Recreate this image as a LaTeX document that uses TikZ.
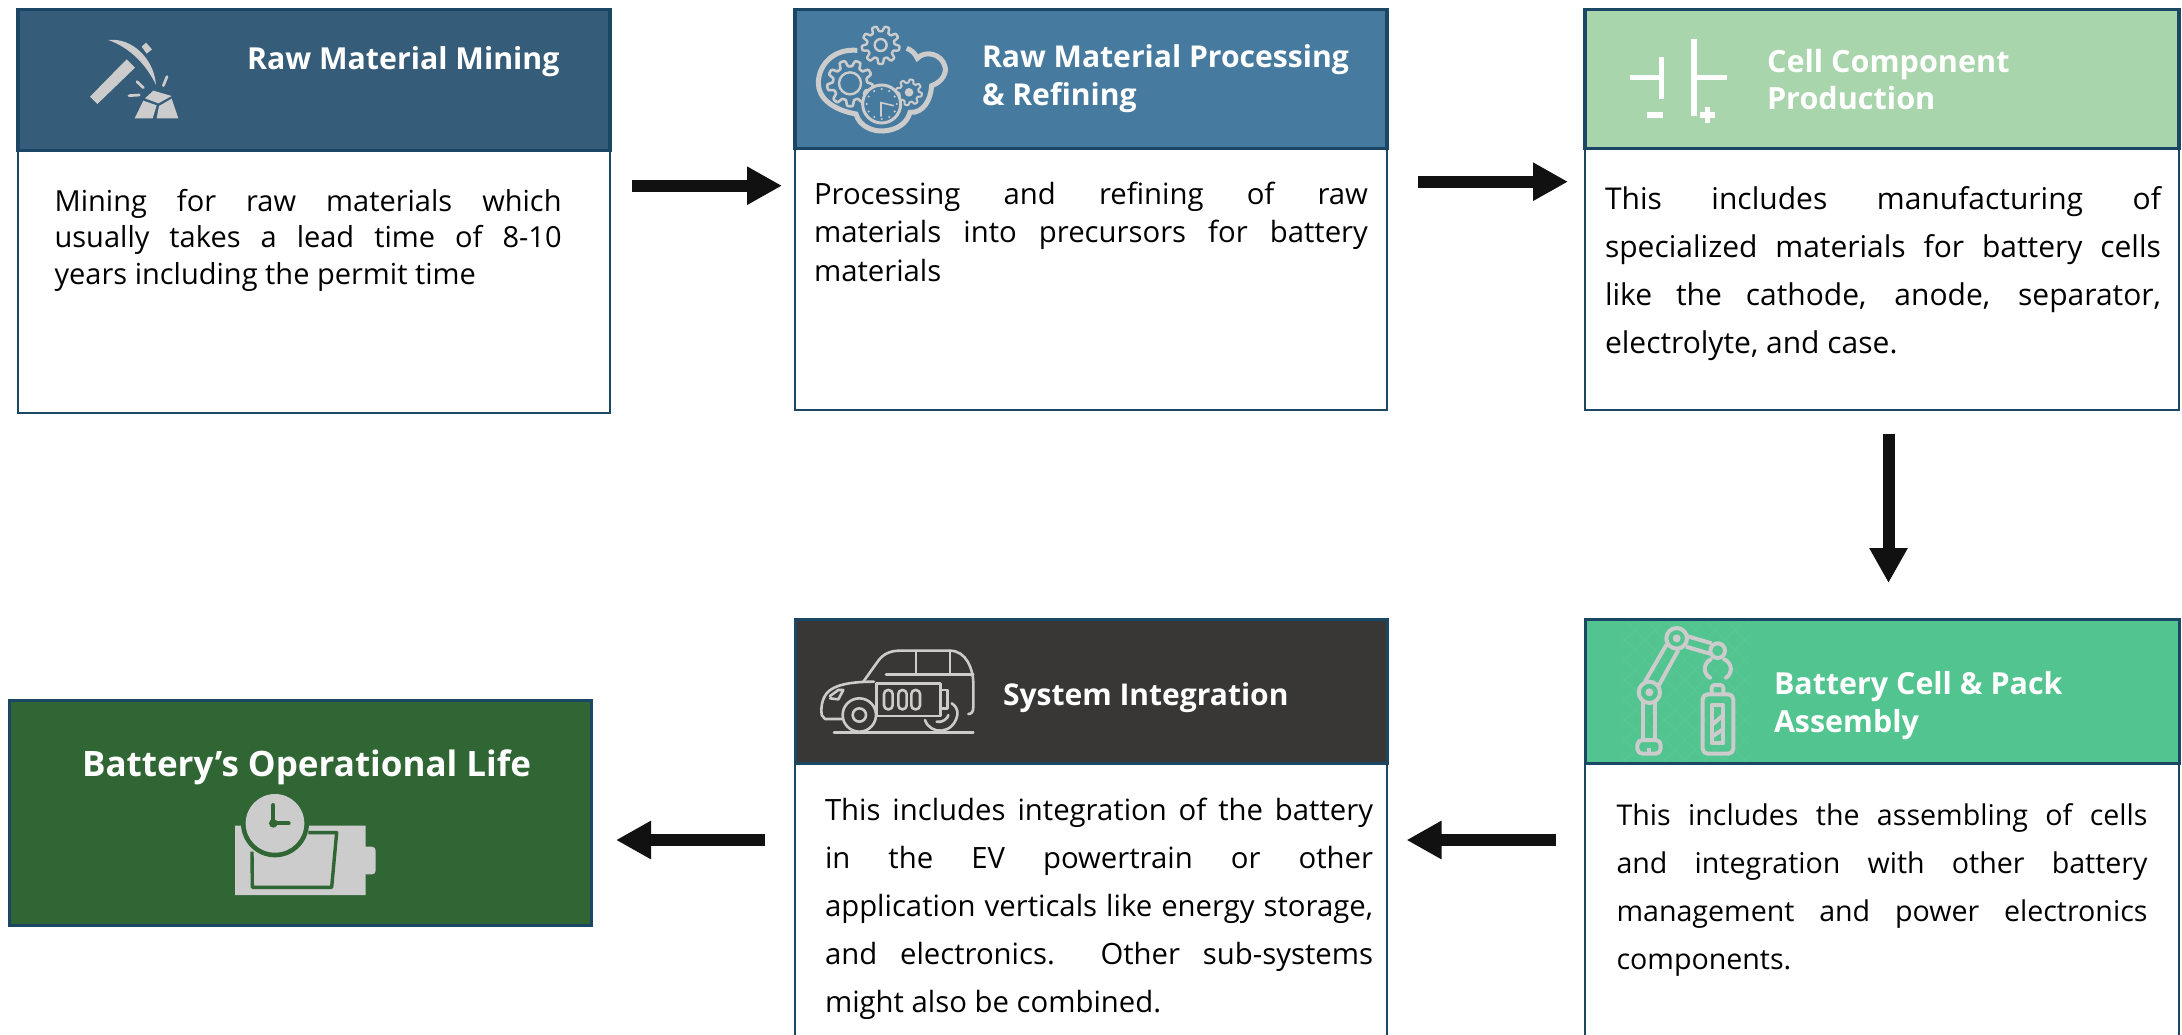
\documentclass[tikz,border=0pt]{standalone}
\usepackage{fontspec}
\setmainfont{Open Sans}
\usetikzlibrary{arrows.meta}
\definecolor{edge}{HTML}{1B4765}
\definecolor{hA}{HTML}{355C78}
\definecolor{hB}{HTML}{467A9F}
\definecolor{hC}{HTML}{A8D5AB}
\definecolor{hD}{HTML}{52C48F}
\definecolor{hE}{HTML}{383736}
\definecolor{hF}{HTML}{306534}
\definecolor{ic}{HTML}{CCCCCC}
\definecolor{arrowink}{HTML}{111111}
\newcommand\lines[2]{\vtop{\baselineskip=#1pt\lineskiplimit=-100pt\relax #2}}
\newcommand\jl[2]{\hbox to #1pt{\spaceskip=.26em plus 1fil\relax #2}}
\newcommand\iconGear[6]{\draw[#6] plot[domain=0:360,samples=145] ({#1+(#3+#4*tanh(2.5*sin(#5*\x)))*cos(\x)},{#2+(#3+#4*tanh(2.5*sin(#5*\x)))*sin(\x)}) -- cycle;}
\tikzset{
  headbox/.style={draw=edge,line width=3.4pt,anchor=north west,inner sep=0pt,outer sep=0pt},
  bodybox/.style={draw=edge,fill=white,line width=2.8pt,anchor=north west,inner sep=0pt,outer sep=0pt},
  bodytext/.style={anchor=base west,inner sep=0pt,outer sep=0pt,text=black,font=\fontsize{#1}{36}\selectfont},
  titletext/.style={anchor=base west,inner sep=0pt,outer sep=0pt,text=white,font=\fontsize{#1}{36}\selectfont\bfseries},
  flow/.style={draw=arrowink,line width=12pt,-{Triangle[length=35pt,width=36pt]}},
  iconscope/.style={x=.33333pt,y=-.33333pt}
}
\begin{document}
\begin{tikzpicture}[x=1pt,y=-1pt]
\useasboundingbox (0,0) rectangle (2182,1034);
\clip (0,0) rectangle (2182,1034);
\fill[white] (0,0) rectangle (2182,1034);
% boxes
\node[bodybox,minimum width=592pt,minimum height=263pt] (b1) at (18,150) {};
\node[headbox,fill=hA,minimum width=592pt,minimum height=141pt] (h1) at (18,9.3) {};
\node[bodybox,minimum width=592pt,minimum height=262pt] (b2) at (795,148) {};
\node[headbox,fill=hB,minimum width=592pt,minimum height=139pt] (h2) at (795,9.3) {};
\node[bodybox,minimum width=594pt,minimum height=262pt] (b3) at (1585,148) {};
\node[headbox,fill=hC,minimum width=594pt,minimum height=139pt] (h3) at (1585,9.3) {};
\node[bodybox,minimum width=594pt,minimum height=297pt] (b4) at (1585,763) {};
\node[headbox,fill=hD,line width=3pt,minimum width=594pt,minimum height=143.5pt] (h4) at (1585,619.5) {};
% faint lattice behind the robot icon
\begin{scope}
\clip (1620,622) rectangle (1750,761);
\foreach \k in {0,20,...,280} {\draw[hD!93!white,line width=.6pt] (1610+\k,615) -- ++(-150,150) (1610+\k-150,615) -- ++(150,150);}
\end{scope}
\node[bodybox,minimum width=592pt,minimum height=297pt] (b5) at (795,763) {};
\node[headbox,fill=hE,line width=3pt,minimum width=592pt,minimum height=143.5pt] (h5) at (795,619.5) {};
\node[headbox,fill=hF,line width=3pt,minimum width=582pt,minimum height=225pt] (b6) at (9,700) {};
% titles
\node[titletext=30.3] (t1) at (247,69) {Raw Material Mining};
\node[titletext=30.1] (t2) at (982,67.5) {\lines{38}{\hbox{Raw Material Processing}\hbox{\&\ Refining}}};
\node[titletext=30.6] (t3) at (1767,72) {\lines{37.5}{\hbox{Cell Component}\hbox{Production}}};
\node[titletext=30.4] (t4) at (1774,694) {\lines{38}{\hbox{Battery Cell \&\ Pack}\hbox{Assembly}}};
\node[titletext=30] (t5) at (1003,705.5) {System Integration};
\node[titletext=35] (t6) at (82,776) {Battery’s Operational Life};
% body texts
\node[bodytext=29] (p1) at (54.6,211) {\lines{36.7}{\jl{507}{Mining for raw materials which}\jl{507}{usually takes a lead time of 8-10}\hbox{years including the permit time}}};
\node[bodytext=29.3] (p2) at (814,204) {\lines{38.5}{\jl{554}{Processing and refining of raw}\jl{554}{materials into precursors for battery}\hbox{materials}}};
\node[bodytext=30] (p3) at (1605,209) {\lines{48.2}{\jl{556}{This includes manufacturing of}\jl{556}{specialized materials for battery cells}\jl{556}{like the cathode, anode, separator,}\hbox{electrolyte, and case.}}};
\node[bodytext=28.6] (p4) at (1616.5,825.5) {\lines{48}{\jl{531}{This includes the assembling of cells}\jl{531}{and integration with other battery}\jl{531}{management and power electronics}\hbox{components.}}};
\node[bodytext=29.3] (p5) at (825,820) {\lines{48}{\jl{548}{This includes integration of the battery}\jl{548}{in the EV powertrain or other}\jl{548}{application verticals like energy storage,}\jl{548}{and electronics.\ \ Other sub-systems}\hbox{might also be combined.}}};
% connectors
\draw[flow,shorten <=22pt,shorten >=13pt] ([yshift=95.8pt]b1.east) -- ([yshift=93.3pt]b2.west);
\draw[flow,shorten <=31pt,shorten >=17pt] ([yshift=97.3pt]b2.east) -- ([yshift=97.3pt]b3.west);
\draw[flow,shorten <=24pt,shorten >=36.5pt] ([xshift=6.5pt]b3.south) -- ([xshift=6.5pt]h4.north);
\draw[flow,shorten <=29.5pt,shorten >=19.5pt] ([yshift=71.5pt]b4.west) -- ([yshift=71.5pt]b5.east);
\draw[flow,shorten <=30pt,shorten >=25pt] ([yshift=71.5pt]b5.west) -- ([yshift=-27.5pt]b6.east);
% icon 1: pickaxe
\begin{scope}[shift={(60,20)},iconscope]
\fill[ic] (145,60) .. controls (215,52) and (282,115) .. (288,195) .. controls (262,140) and (215,85) .. (145,60) -- cycle;
\fill[ic] (245,80) -- (258,68) -- (276,88) -- (260,101) -- cycle;
\fill[ic] (90,230) -- (200,118) -- (225,143) -- (112,252) -- cycle;
\draw[ic,line width=2.7pt,line cap=round] (231,185) -- (250,203) (207,227) -- (238,225) (321,170) -- (310,197);
\fill[ic] (255,235) -- (280,212) -- (335,228) -- (295,250) -- cycle;
\fill[ic] (250,242) -- (290,256) -- (278,295) -- (224,295) -- cycle;
\fill[ic] (297,258) -- (335,236) -- (355,295) -- (290,295) -- cycle;
\end{scope}
% icon 2: cloud, gears and clock
\begin{scope}[shift={(800,15)},iconscope]
\draw[ic,line width=5pt] (172,106) .. controls (100,100) and (55,150) .. (55,205) .. controls (55,250) and (100,285) .. (168,297) .. controls (178,335) and (220,350) .. (250,348) .. controls (295,345) and (322,322) .. (330,292) .. controls (370,295) and (392,255) .. (395,212) .. controls (430,200) and (440,170) .. (435,155) .. controls (425,115) and (375,105) .. (352,130) .. controls (345,115) and (335,105) .. (320,100);
\iconGear{150}{205}{60}{9}{9}{ic,fill=hB,line width=2.6pt}
\draw[ic,line width=2.4pt] (150,205) circle[radius=33];
\iconGear{242}{90}{49}{8}{9}{ic,fill=hB,line width=2.4pt}
\draw[ic,line width=2.4pt] (242,90) circle[radius=18];
\iconGear{327}{232}{34}{5}{8}{ic,fill=hB,line width=2pt}
\fill[ic] (327,232) circle[radius=13];
\draw[ic,fill=hB,line width=3pt] (245,267) circle[radius=57];
\draw[ic,line width=1.6pt] (243,305) -- (243,263) -- (281,272);
\foreach \a in {0,30,...,330} {\fill[ic] ({245+45*cos(\a)},{267+45*sin(\a)}) circle[radius=3.5];}
\end{scope}
% icon 3: cell symbol
\begin{scope}[shift={(1610,20)},iconscope]
\draw[white,line width=5.2pt] (60,172) -- (155,172) (155,110) -- (155,236) (110,285) -- (158,285) (252,58) -- (252,288) (252,172) -- (350,172) (270,285) -- (316,285) (292,262) -- (292,310);
\end{scope}
% icon 4: robot arm and battery
\begin{scope}[shift={(1610,615)},iconscope,line join=round]
\draw[ic,line width=4pt] (200,70) circle[radius=31] (118,232) circle[radius=32] (323,107) circle[radius=22];
\fill[ic] (200,70) circle[radius=12] (118,232) circle[radius=12];
\draw[ic,line width=4pt] (170,88) -- (105,200) (205,105) -- (146,212) (230,63) -- (305,85) (228,95) -- (300,116);
\draw[ic,line width=4pt,line cap=round] (302,133) .. controls (280,145) and (278,175) .. (300,188) (343,133) .. controls (368,145) and (368,175) .. (348,188);
\draw[ic,line width=4pt] (100,262) -- (100,375) (135,262) -- (135,375);
\draw[ic,line width=4pt,rounded corners=5pt] (82,375) rectangle (152,416);
\draw[ic,line width=4pt] (117,416) -- (117,400);
\draw[ic,line width=4pt,rounded corners=3pt] (305,235) -- (305,210) -- (340,210) -- (340,235);
\draw[ic,line width=4pt,rounded corners=5pt] (278,238) rectangle (370,416);
\draw[ic,line width=4pt] (306,270) rectangle (340,385);
\draw[ic,line width=4pt] (306,330) -- (340,300) (306,365) -- (340,342);
\end{scope}
% icon 5: electric car
\begin{scope}[shift={(810,640)},iconscope,line join=round,line cap=round]
\draw[ic,line width=2.6pt] (160,125) -- (205,62) .. controls (220,42) and (240,32) .. (270,32) -- (420,32) .. controls (470,32) and (490,90) .. (490,130) -- (490,200) .. controls (490,215) and (485,222) .. (475,222);
\draw[ic,line width=2.6pt] (192,125) .. controls (120,125) and (70,135) .. (50,160) .. controls (35,180) and (32,205) .. (35,225) -- (45,237) -- (98,237);
\draw[ic,line width=2.6pt] (60,168) -- (85,150) -- (100,150) -- (85,178) -- (60,175);
\draw[ic,line width=2.6pt] (318,32) -- (318,102) (420,32) -- (420,102) (228,104) -- (490,104);
\draw[ic,line width=2.6pt] (148,225) circle[radius=50];
\draw[ic,line width=2.6pt] (148,225) circle[radius=20];
\draw[ic,line width=2.6pt] (200,130) rectangle (392,228);
\draw[ic,line width=2.6pt] (392,150) -- (412,150) -- (412,205) -- (392,205);
\draw[ic,line width=2.6pt,rounded corners=4pt] (222,150) rectangle (248,208) (265,150) rectangle (290,208) (304,150) rectangle (330,208);
\draw[ic,line width=2.6pt] (345,240) .. controls (360,285) and (430,285) .. (442,225) .. controls (445,210) and (435,195) .. (425,190);
\draw[ic,line width=2.6pt] (380,245) .. controls (395,250) and (415,235) .. (415,225);
\draw[ic,line width=2.6pt] (72,277) -- (490,277);
\end{scope}
% icon 6: battery and clock
\begin{scope}[shift={(220,780)},iconscope]
\fill[ic] (45,137) -- (437,137) -- (437,200) -- (455,200) .. controls (463,200) and (467,205) .. (467,212) -- (467,272) .. controls (467,279) and (463,283) .. (455,283) -- (437,283) -- (437,345) -- (45,345) -- cycle;
\draw[hF,line width=3.4pt,line join=round] (96,215) -- (97,322) -- (335,322) -- (350,158) -- (265,158);
\fill[hF] (165,130) circle[radius=102];
\fill[ic] (165,130) circle[radius=88];
\draw[hF,line width=4pt,line cap=round] (160,75) -- (160,130) -- (206,130);
\fill[hF] (160,130) circle[radius=13];
\end{scope}
\end{tikzpicture}
\end{document}
